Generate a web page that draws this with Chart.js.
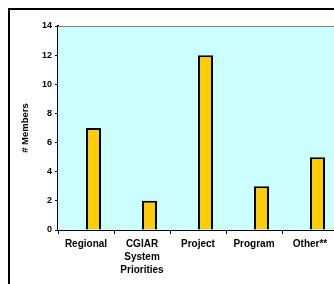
<!DOCTYPE html>
<html>
<head>
<meta charset="utf-8">
<script src="https://cdn.jsdelivr.net/npm/chart.js@4.4.1/dist/chart.umd.min.js"></script>
<style>
  html, body { margin: 0; padding: 0; background: #fff; overflow: hidden; width: 334px; height: 284px; }
  #frame { position: absolute; left: 8px; top: 8px; width: 400px; height: 400px; border: 2px solid #000; box-sizing: border-box; }
  #wrap { position: absolute; left: 0; top: 0; width: 360px; height: 300px; }
</style>
</head>
<body>
<div id="frame"></div>
<div id="wrap"><canvas id="c" width="360" height="300"></canvas></div>
<script>
const categories = ["Regional", ["CGIAR", "System", "Priorities"], "Project", "Program", "Other**"];
const members = [7, 2, 12, 3, 5];
const emptySeries = [null, null, null, null, null];
const yTicks = [0, 2, 4, 6, 8, 10, 12, 14];

const plotBg = {
  id: 'plotBg',
  beforeDatasetsDraw(chart) {
    const a = chart.chartArea, ctx = chart.ctx;
    ctx.save();
    ctx.fillStyle = '#CCFFFF';
    ctx.fillRect(a.left, a.top, a.right - a.left, a.bottom - a.top);
    ctx.strokeStyle = '#808080';
    ctx.lineWidth = 1;
    ctx.beginPath();
    ctx.moveTo(a.left, a.top + 0.5);
    ctx.lineTo(a.right, a.top + 0.5);
    ctx.stroke();
    ctx.restore();
  }
};

new Chart(document.getElementById('c'), {
  type: 'bar',
  data: {
    labels: categories,
    datasets: [
      { data: emptySeries, backgroundColor: '#FFCC00' },
      { data: members, backgroundColor: '#FFCC00', borderColor: '#000', borderWidth: 2 }
    ]
  },
  options: {
    responsive: false,
    animation: false,
    devicePixelRatio: 1,
    categoryPercentage: 0.536,
    barPercentage: 1,
    layout: { padding: { top: 26, right: 22, bottom: 20, left: 0 } },
    plugins: { legend: { display: false }, tooltip: { enabled: false } },
    scales: {
      x: {
        grid: { drawOnChartArea: false, drawTicks: true, tickLength: 4, color: '#000', lineWidth: 1, offset: true },
        border: { color: '#000', width: 2 },
        ticks: { color: '#000', font: { family: 'Liberation Sans, Arial, sans-serif', size: 10, weight: 'bold', lineHeight: 1.3 }, padding: 4, maxRotation: 0, autoSkip: false },
        afterFit(s) { s.height = 50; }
      },
      y: {
        min: 0, max: 14,
        afterBuildTicks(s) { s.ticks = yTicks.map(v => ({ value: v })); },
        grid: { drawOnChartArea: false, drawTicks: true, tickLength: 3, color: '#000', lineWidth: 1 },
        border: { color: '#000', width: 2 },
        ticks: { color: '#000', font: { family: 'Liberation Sans, Arial, sans-serif', size: 9, weight: 'bold' }, padding: 3 },
        title: { display: true, text: '# Members', color: '#000', font: { family: 'Liberation Sans, Arial, sans-serif', size: 9.5, weight: 'bold' }, padding: { top: 20, bottom: 0 } },
        afterFit(s) { s.width = 58; }
      }
    }
  },
  plugins: [plotBg]
});
</script>
</body>
</html>
